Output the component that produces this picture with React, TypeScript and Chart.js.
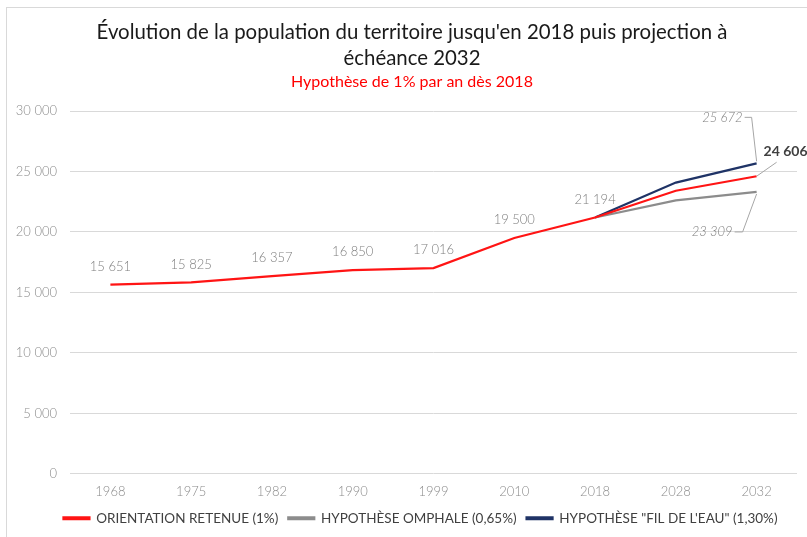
import React, { useEffect, useRef } from "react";
import { Chart, registerables } from "chart.js";

Chart.register(...registerables);

const categories = ["1968", "1975", "1982", "1990", "1999", "2010", "2018", "2028", "2032"];
const retenue = [15651, 15825, 16357, 16850, 17016, 19500, 21194, 23410, 24606];
const omphale = [null, null, null, null, null, null, 21194, 22610, 23309];
const filEau = [null, null, null, null, null, null, 21194, 24080, 25672];
const seriesNames = ["ORIENTATION RETENUE (1%)", "HYPOTHÈSE OMPHALE (0,65%)", "HYPOTHÈSE \"FIL DE L'EAU\" (1,30%)"];
const titleLines = ["Évolution de la population du territoire jusqu'en 2018 puis projection à", "échéance 2032"];
const subtitleText = "Hypothèse de 1% par an dès 2018";

const fmt = (v: number) => String(Math.round(v)).replace(/\B(?=(\d{3})+(?!\d))/g, " ");

const RED = "#ff1414";
const GRAY = "#8c8c8c";
const NAVY = "#1f3366";

const labelPlugin = {
  id: "labels",
  afterDatasetsDraw(chart: any) {
    const ctx = chart.ctx;
    const xs = chart.scales.x;
    const ys = chart.scales.y;
    ctx.save();
    ctx.font = "300 13px Lato";
    ctx.fillStyle = "#7f7f7f";
    ctx.textAlign = "center";
    ctx.textBaseline = "middle";
    for (let i = 0; i < 7; i++) {
      const x = xs.getPixelForValue(i);
      const y = ys.getPixelForValue(retenue[i]);
      ctx.fillText(fmt(retenue[i]), x, y - 18);
    }
    const last = categories.length - 1;
    const px = xs.getPixelForValue(last);
    const yb = ys.getPixelForValue(filEau[last] as number);
    const yg = ys.getPixelForValue(omphale[last] as number);
    const yr = ys.getPixelForValue(retenue[last]);
    ctx.strokeStyle = "#a6a6a6";
    ctx.lineWidth = 1;
    ctx.font = "italic 300 13px Lato";
    ctx.textAlign = "right";
    const tbY = yb - 46;
    ctx.fillText(fmt(filEau[last] as number), px - 14, tbY);
    ctx.beginPath();
    ctx.moveTo(px - 12, tbY);
    ctx.lineTo(px - 5, tbY);
    ctx.lineTo(px, yb - 2);
    ctx.stroke();
    const tgY = yg + 40;
    ctx.fillText(fmt(omphale[last] as number), px - 24, tgY);
    ctx.beginPath();
    ctx.moveTo(px - 22, tgY);
    ctx.lineTo(px - 14, tgY);
    ctx.lineTo(px, yg + 2);
    ctx.stroke();
    ctx.font = "bold 14px Lato";
    ctx.fillStyle = "#404040";
    ctx.textAlign = "left";
    ctx.fillText(fmt(retenue[last]), px + 7, yr - 25);
    ctx.beginPath();
    ctx.moveTo(px, yr);
    ctx.lineTo(px + 20, yr - 14);
    ctx.stroke();
    ctx.restore();
  },
};

const titlePlugin = {
  id: "titles",
  afterLayout(chart: any) {
    const lg = chart.legend;
    if (lg) {
      lg.left += 22;
      lg.right += 22;
    }
  },
  afterDraw(chart: any) {
    const ctx = chart.ctx;
    ctx.save();
    ctx.textAlign = "center";
    ctx.textBaseline = "middle";
    ctx.fillStyle = "#1a1a1a";
    ctx.font = "20.4px Lato";
    ctx.fillText(titleLines[0], 412, 32);
    ctx.fillText(titleLines[1], 412, 58);
    ctx.fillStyle = "#ff0000";
    ctx.font = "16px Lato";
    ctx.fillText(subtitleText, 412, 82);
    ctx.restore();
  },
};

export default function App() {
  const ref = useRef<HTMLCanvasElement>(null);
  useEffect(() => {
    document.body.style.margin = "0";
    const chart = new Chart(ref.current as HTMLCanvasElement, {
      type: "line",
      data: {
        labels: categories,
        datasets: [
          { label: seriesNames[0], data: retenue, borderColor: RED, backgroundColor: RED, borderWidth: 2.2, pointRadius: 0, order: 1 },
          { label: seriesNames[1], data: omphale as any, borderColor: GRAY, backgroundColor: GRAY, borderWidth: 2.2, pointRadius: 0, order: 2 },
          { label: seriesNames[2], data: filEau as any, borderColor: NAVY, backgroundColor: NAVY, borderWidth: 2.2, pointRadius: 0, order: 3 },
        ],
      },
      options: {
        animation: false,
        responsive: false,
        layout: { padding: { top: 111, right: 10, left: 0, bottom: 2 } },
        plugins: {
          title: { display: false },
          tooltip: { enabled: false },
          legend: {
            position: "bottom",
            labels: {
              boxWidth: 26,
              boxHeight: 2,
              padding: 10,
              color: "#404040",
              font: { family: "Lato", size: 13.5 },
            },
          },
        },
        scales: {
          x: {
            offset: true,
            grid: { display: false },
            border: { display: false },
            ticks: { color: "#8c8c8c", font: { family: "Lato", size: 13, weight: 300 as any }, padding: 2 },
          },
          y: {
            min: 0,
            max: 30000,
            afterFit(scale: any) { scale.width = 70; },
            grid: { color: "#d9d9d9", drawTicks: false },
            border: { display: false },
            ticks: {
              stepSize: 5000,
              color: "#8c8c8c",
              padding: 13,
              font: { family: "Lato", size: 13, weight: 300 as any },
              callback: (v: any) => fmt(Number(v)),
            },
          },
        },
      },
      plugins: [labelPlugin, titlePlugin],
    });
    return () => chart.destroy();
  }, []);
  return (
    <div style={{ position: "relative", width: 807, height: 537, background: "#fff", overflow: "hidden" }}>
      <div style={{ position: "absolute", left: 6, top: 7, width: 900, height: 600, border: "1px solid #d9d9d9" }} />
      <canvas ref={ref} width={807} height={537} style={{ position: "absolute", left: 0, top: 0 }} />
    </div>
  );
}
